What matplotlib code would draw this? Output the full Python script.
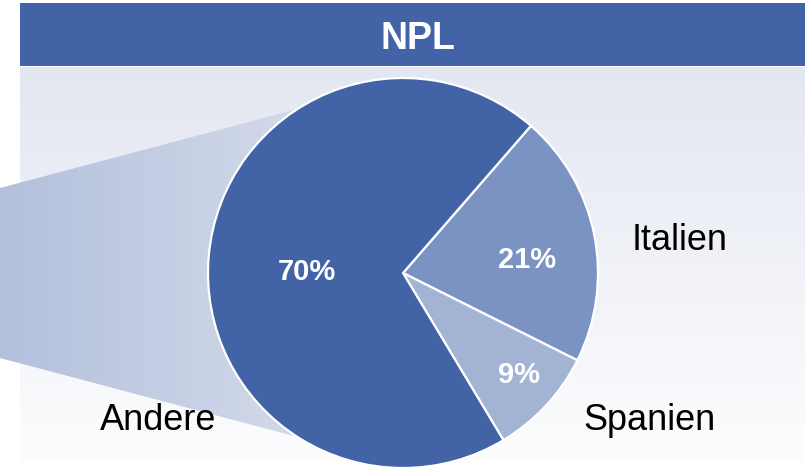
import numpy as np
import matplotlib.pyplot as plt
from matplotlib.patches import Rectangle, Polygon
from matplotlib.colors import LinearSegmentedColormap

plt.rcParams['font.family'] = ['Liberation Sans', 'DejaVu Sans']

# data
title = "NPL"
categories = ["Italien", "Spanien", "Andere"]
shares = [21, 9, 70]
slice_colors = ["#7a93c3", "#a3b3d4", "#4263a6"]

# layout (pixel coords, y up), text anchored at baseline
W, H = 805, 472
cx, cy, r = 403, 199, 195
label_pos = [(680, 222), (650, 42), (158, 42)]
pct_pos = [(527, 204), (519, 89), (307, 192)]

fig = plt.figure(figsize=(W / 100, H / 100), dpi=100)
ax = fig.add_axes([0, 0, 1, 1])

# background panel with vertical gradient
bg = LinearSegmentedColormap.from_list("bg", ["#fdfdfe", "#e3e7f1"])
grad = np.linspace(0, 1, 256).reshape(-1, 1)
ax.imshow(grad, cmap=bg, extent=[20, W, 10, 405], origin='lower',
          aspect='auto', zorder=0)

# funnel shape behind the pie, horizontal gradient
fn = LinearSegmentedColormap.from_list("fn", ["#b3c0dc", "#dde2ee"])
hgrad = np.linspace(0, 1, 256).reshape(1, -1)
im = ax.imshow(hgrad, cmap=fn, extent=[0, cx, cy - 192, cy + 192],
               origin='lower', aspect='auto', zorder=1)
funnel = Polygon([(0, cy - 85), (cx, cy - 192), (cx, cy + 192), (0, cy + 85)],
                 closed=True, transform=ax.transData, facecolor='none')
ax.add_patch(funnel)
im.set_clip_path(funnel)

# title bar
ax.add_patch(Rectangle((20, 406), W - 20, 63, facecolor="#4264a6",
                       edgecolor='none', zorder=2))
ax.text((20 + W) / 2 + 5, 423, title, color='white', fontsize=27,
        fontweight='bold', ha='center', va='baseline', zorder=3)

wedges, texts, autotexts = ax.pie(
    shares, colors=slice_colors, startangle=49, counterclock=False,
    center=(cx, cy), radius=r, autopct='%d%%', frame=True,
    wedgeprops=dict(edgecolor='white', linewidth=1.6),
    textprops=dict(color='white', fontsize=21, fontweight='bold'))
for w in wedges:
    w.set_zorder(4)
for t, p in zip(autotexts, pct_pos):
    t.set_position(p)
    t.set_zorder(5)
    t.set_ha('center')
    t.set_va('baseline')

ax.set_xlim(0, W)
ax.set_ylim(0, H)
ax.set_aspect('auto')
ax.axis('off')

for name, p in zip(categories, label_pos):
    ax.text(p[0], p[1], name, fontsize=26, color='black',
            ha='center', va='baseline', zorder=5)

fig.savefig("out.png", dpi=100)
